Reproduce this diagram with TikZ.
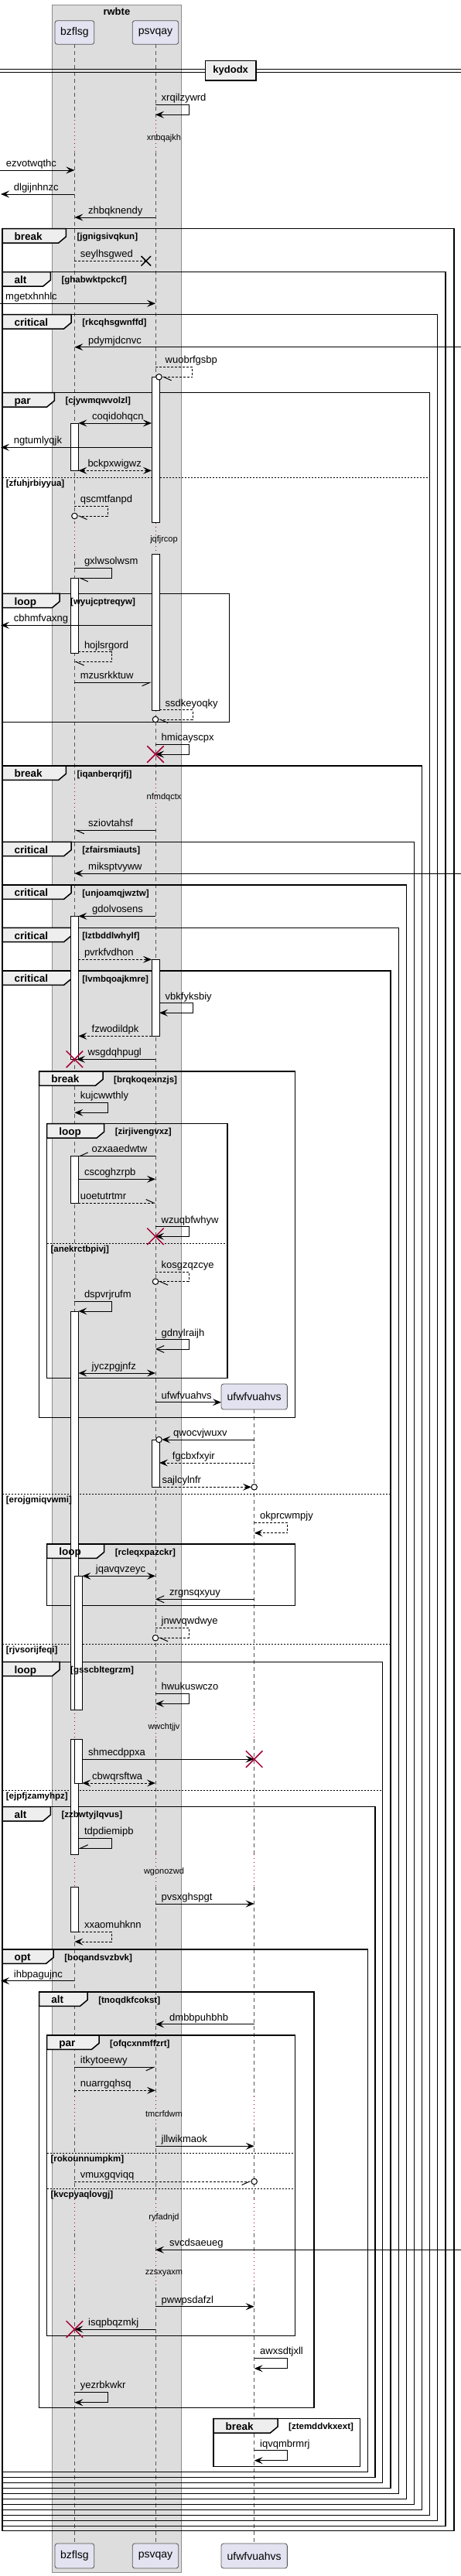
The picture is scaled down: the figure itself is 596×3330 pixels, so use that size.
\documentclass[tikz,border=0pt]{standalone}
\usepackage{fontspec}
\setmainfont{Liberation Sans}
\usetikzlibrary{arrows.meta, shapes.misc, positioning}
\pgfdeclarelayer{front}
\pgfsetlayers{main,front}
\definecolor{sqBox}{HTML}{DDDDDD}
\definecolor{sqTab}{HTML}{EEEEEE}
\definecolor{sqPart}{HTML}{E2E2F0}
\definecolor{sqRed}{HTML}{A80036}
\definecolor{sqGrey}{HTML}{555555}
\tikzset{
  lifeline/.style  = {sqGrey, line width=0.7pt, dash pattern=on 5pt off 4pt},
  delayline/.style = {sqRed, line width=0.8pt, dash pattern=on 1pt off 4pt},
  actbar/.style    = {fill=white, draw=black, line width=0.8pt},
  msgline/.style   = {black, line width=1pt},
  retline/.style   = {msgline, dash pattern=on 3pt off 2pt},
  fa/.style        = {-{Stealth[length=11pt, width=9pt, inset=4.5pt]}},
  fb/.style        = {{Stealth[length=11pt, width=9pt, inset=4.5pt]}-{Stealth[length=11pt, width=9pt, inset=4.5pt]}},
  oa/.style        = {-{Straight Barb[length=10pt, width=9pt]}},
  ha/.style        = {-{Straight Barb[harpoon, length=10pt, width=9pt]}},
  hs/.style        = {-{Straight Barb[harpoon, swap, length=10pt, width=9pt]}},
  lbl/.style       = {font=\fontsize{13}{15}\selectfont, inner sep=0pt, anchor=base west},
  dlbl/.style      = {font=\fontsize{11}{13}\selectfont, inner sep=0pt},
  kw/.style        = {font=\fontsize{13.5}{15}\selectfont\bfseries, inner sep=0pt, anchor=base west},
  glbl/.style      = {font=\fontsize{11.5}{13}\selectfont\bfseries, inner sep=0pt, anchor=base west},
  frameline/.style = {black, line width=1.5pt},
  elseline/.style  = {black, line width=0.8pt, dash pattern=on 2pt off 2pt},
  part/.style      = {draw=sqGrey, fill=sqPart, rounded corners=3pt, line width=0.8pt,
                      font=\fontsize{14}{16}\selectfont, inner sep=0pt},
  killx/.style     = {cross out, draw=sqRed, line width=1.5pt, minimum size=20pt, inner sep=0pt},
  lostx/.style     = {cross out, draw=black, line width=1.5pt, minimum size=11pt, inner sep=0pt},
  endo/.style      = {circle, draw=black, fill=white, line width=1pt, minimum size=7.5pt, inner sep=0pt},
}
% group frame: label, left, top, right, bottom, keyword, tab width
\newcommand\sqgroup[7]{%
  \draw[frameline] (#2,#3) rectangle (#4,#5);
  \draw[frameline, fill=sqTab] (#2,#3) -- ++(#7,0) -- ++(0,10.3) -- ++(-9.6,8) -- ++({-#7+9.6},0) -- cycle;
  \begin{pgfonlayer}{front}
    \node[kw] (#1-kw) at ({#2+15.4},{#3+14.8}) {#6};
    \node[glbl] (#1) at ({#2+#7+14},{#3+14}) {[#1]};
  \end{pgfonlayer}}
% else separator: label, left, right, y
\newcommand\sqelse[4]{%
  \draw[elseline] (#2,#4) -- (#3,#4);
  \begin{pgfonlayer}{front}
    \node[glbl] (#1) at ({#2+4.7},{#4+11}) {[#1]};
  \end{pgfonlayer}}
% message: x from, x to, y, label x, text
\newcommand\sqmsg[6][fa]{%
  \draw[msgline, #1] (#2,#4) -- (#3,#4);
  \node[lbl] (#6) at (#5,{#4-4.5}) {#6};}
% self message: x from, x right, y out, y back, x end, label x, text
\newcommand\sqself[8][fa]{%
  \draw[msgline, #1] (#2,#4) -- (#3,#4) -- (#3,#5) -- (#6,#5);
  \node[lbl] (#8) at (#7,{#4-4.5}) {#8};}

\begin{document}
\begin{tikzpicture}[x=1pt,y=-1pt]
  \useasboundingbox (0,0) rectangle (596,3330);
  % participant box
  \draw[fill=sqBox, draw=black!45, line width=0.7pt] (67.2,6) rectangle (234.6,3325);
  \node[font=\fontsize{13}{15}\selectfont\bfseries, inner sep=0pt, anchor=base] (rwbte) at (150.9,19) {rwbte};
  \foreach \n/\x/\w/\t in {bz/96.4/50.7/bzflsg, ps/201/59.5/psvqay}
    { \node[part, minimum width=\w pt, minimum height=30.6pt] (\n-top) at (\x,42) {\t};
      \node[part, minimum width=\w pt, minimum height=32pt] (\n-bot) at (\x,3304) {\t}; }
  \node[part, minimum width=85.3pt, minimum height=33pt] (uf-top) at (328.7,1805.5) {ufwfvuahvs};
  \node[part, minimum width=85.3pt, minimum height=32pt] (uf-bot) at (328.7,3304) {ufwfvuahvs};

  % lifelines and delays
  \foreach \a/\b in {57.3/155, 196.7/675.7, 716.7/1008.3, 1053.3/2210, 2248.3/2397.3,
                     2439.3/2710, 2750/2843.3, 2886.7/2913.3, 2956.7/3288}
    { \draw[lifeline] (96.4,\a) -- (96.4,\b); \draw[lifeline] (201,\a) -- (201,\b); }
  \foreach \a/\b in {1822/2210, 2248.3/2397.3, 2439.3/2710, 2750/2843.3, 2886.7/2913.3, 2956.7/3288}
    \draw[lifeline] (328.7,\a) -- (328.7,\b);
  \foreach \a/\b in {155/196.7, 675.7/716.7, 1008.3/1053.3, 2210/2248.3, 2397.3/2439.3,
                     2710/2750, 2843.3/2886.7, 2913.3/2956.7}
    { \draw[delayline] (96.4,\a) -- (96.4,\b); \draw[delayline] (201,\a) -- (201,\b); }
  \foreach \a/\b in {2210/2248.3, 2397.3/2439.3, 2710/2750, 2843.3/2886.7, 2913.3/2956.7}
    \draw[delayline] (328.7,\a) -- (328.7,\b);
  \foreach \t/\y in {xnbqajkh/178.3, jqfjrcop/697.3, nfmdqctx/1031, wwchtjjv/2232.7,
                     wgonozwd/2419.3, tmcrfdwm/2732.3, ryfadnjd/2866.7, zzsxyaxm/2938.3}
    \node[dlbl] (\t) at (212,\y) {\t};

  % divider
  \draw[line width=1pt] (0,89.8) -- (596,89.8);
  \draw[line width=1pt] (0,93) -- (596,93);
  \node[draw, fill=sqTab, line width=1.6pt, minimum width=65.6pt, minimum height=25.7pt,
        inner sep=0pt, font=\fontsize{13}{15}\selectfont\bfseries] (kydodx) at (298.2,91.2) {kydodx};

  % groups
  \sqgroup{jgnigsivqkun}{3}{295.7}{586.8}{3271.7}{break}{82.3}
  \sqgroup{ghabwktpckcf}{3}{351.7}{576}{3265.7}{alt}{62.4}
  \sqgroup{rkcqhsgwnffd}{3}{406.7}{565.7}{3258.7}{critical}{89.2}
  \sqgroup{cjywmqwvolzl}{3}{507.7}{555.7}{3251.7}{par}{67.3}
  \sqelse{zfuhjrbiyyua}{3}{555.7}{617.3}
  \sqgroup{wyujcptreqyw}{3}{767.3}{296.5}{933.3}{loop}{74}
  \sqgroup{iqanberqrjfj}{3}{990}{545.7}{3244.7}{break}{82.3}
  \sqgroup{zfairsmiauts}{3}{1088.3}{535.7}{3237.7}{critical}{89.2}
  \sqgroup{unjoamqjwztw}{3}{1144}{525.3}{3230.7}{critical}{89.2}
  \sqgroup{lztbddlwhylf}{3}{1199.3}{515.4}{3223.7}{critical}{89.2}
  \sqgroup{lvmbqoajkmre}{3}{1255}{505}{3216.7}{critical}{89.2}
  \sqgroup{brqkoqexnzjs}{50.7}{1385}{381.3}{1832.7}{break}{82.3}
  \sqgroup{zirjivengvxz}{60.7}{1452.7}{293.8}{1781.7}{loop}{74}
  \sqelse{anekrctbpivj}{60.7}{293.8}{1607.3}
  \sqelse{erojgmiqvwmi}{3}{505}{1931}
  \sqgroup{rcleqxpazckr}{60.7}{1996}{381.3}{2075.7}{loop}{74}
  \sqelse{rjvsorijfeqi}{3}{505}{2125.7}
  \sqgroup{gsscbltegrzm}{3}{2148.3}{494.6}{3209.7}{loop}{74}
  \sqelse{ejpfjzamyhpz}{3}{494.6}{2314}
  \sqgroup{zzbwtyjlqvus}{3}{2335.7}{485}{3202.7}{alt}{62.4}
  \sqgroup{boqandsvzbvk}{3}{2520}{475.4}{3195.7}{opt}{66.2}
  \sqgroup{tnoqdkfcokst}{50.7}{2575}{406}{3112.7}{alt}{62.4}
  \sqgroup{ofqcxnmffzrt}{60.7}{2631}{381.3}{3019.3}{par}{67.3}
  \sqelse{rokounnumpkm}{60.7}{381.3}{2783.3}
  \sqelse{kvcpyaqlovgj}{60.7}{381.3}{2829.3}
  \sqgroup{ztemddvkxext}{276}{3126.7}{465.4}{3188.3}{break}{83}

  % activations
  \foreach \x/\a/\b in {201/487.3/675.7, 201/716.7/918.3, 96.4/547/608.3, 96.4/747.3/844,
                        96.4/1184.3/1369.3, 201/1240.3/1339.3, 96.4/1494.3/1555,
                        96.4/1695/2210, 96.4/2248.3/2397.3, 101.4/2037.3/2210,
                        101.4/2248.3/2305, 201/1861/1922.3, 96.4/2439.3/2497.7}
    \draw[actbar] ({\x-5},\a) rectangle ({\x+5},\b);

  % messages
  \sqself{201}{244}{135}{148.3}{201}{208.5}{xrqilzywrd}
  \sqmsg{0}{96.4}{220}{7.7}{ezvotwqthc}
  \sqmsg{96.4}{1}{251}{17.7}{dlgijnhnzc}
  \sqmsg{201}{96.4}{281}{114}{zhbqknendy}
  \sqmsg[retline]{96.4}{188.8}{337.3}{103.7}{seylhsgwed}
  \node[lostx] (lost) at (188.8,337.3) {};
  \sqmsg{0}{201}{392.3}{7}{mgetxhnhlc}
  \sqmsg{596}{96.4}{448.7}{114}{pdymjdcnvc}
  \sqself[retline,ha,shorten >=3.75pt]{201}{248.8}{474.3}{487.3}{205.5}{213.5}{wuobrfgsbp}
  \node[endo] (end1) at (205.5,487.3) {};
  \sqmsg[fb]{101.4}{196}{547}{119}{coqidohqcn}
  \sqmsg{196}{1}{578.3}{17.7}{ngtumlyqjk}
  \sqmsg[retline,fb]{101.4}{196}{608.3}{113.3}{bckpxwigwz}
  \sqself[retline,ha,shorten >=3.75pt]{96.4}{139}{654.3}{667}{96.4}{103.7}{qscmtfanpd}
  \node[endo] (end2) at (96.4,667) {};
  \sqself[ha]{96.4}{144}{734.3}{747.3}{101.4}{108.8}{gxlwsolwsm}
  \sqmsg{196}{1}{808.3}{17.7}{cbhmfvaxng}
  \sqself[retline,ha]{101.4}{144}{842.5}{855.7}{96.4}{108.8}{hojlsrgord}
  \sqmsg[hs]{96.4}{196}{882.3}{103.7}{mzusrkktuw}
  \sqself[retline,ha,shorten >=3.75pt]{206}{249}{917.7}{930}{201}{213.5}{ssdkeyoqky}
  \node[endo] (end3) at (201,930) {};
  \sqself{201}{244}{962.3}{975}{201}{208.5}{hmicayscpx}
  \node[killx] (kill1) at (201,975) {};
  \sqmsg[ha]{201}{96.4}{1073.3}{114}{sziovtahsf}
  \sqmsg{596}{96.4}{1129}{114}{miksptvyww}
  \sqmsg{201}{101.4}{1184.3}{119}{gdolvosens}
  \sqmsg[retline,fa]{101.4}{196}{1240.3}{108.8}{pvrkfvdhon}
  \sqself{206}{249}{1296.7}{1309.3}{206}{213.5}{vbkfyksbiy}
  \sqmsg[retline,fa]{196}{101.4}{1339.3}{118.5}{fzwodildpk}
  \sqmsg{201}{99}{1369.3}{113.3}{wsgdqhpugl}
  \node[killx] (kill2) at (96.4,1369.3) {};
  \sqself{96.4}{139}{1425}{1438.3}{96.4}{103.7}{kujcwwthly}
  \sqmsg[hs]{201}{101.4}{1494.3}{118.5}{ozxaaedwtw}
  \sqmsg{101.4}{201}{1524.3}{108.8}{cscoghzrpb}
  \sqmsg[retline,ha]{101.4}{201}{1555}{103.7}{uoetutrtmr}
  \sqself{201}{244}{1585.7}{1598.3}{201}{208.5}{wzuqbfwhyw}
  \node[killx] (kill3) at (201,1598.3) {};
  \sqself[retline,ha,shorten >=3.75pt]{201}{244}{1644.3}{1656.7}{201}{208.5}{kosgzqzcye}
  \node[endo] (end4) at (201,1656.7) {};
  \sqself{96.4}{144}{1682}{1695}{101.4}{108.8}{dspvrjrufm}
  \sqself[oa]{201}{244}{1731.7}{1744}{201}{208.5}{gdnylraijh}
  \sqmsg[fb]{101.4}{201}{1775}{118.5}{jyczpgjnfz}
  \sqmsg{201}{286}{1812.7}{208.5}{ufwfvuahvs}
  \sqmsg[fa,shorten >=3.75pt]{328.7}{205.5}{1861}{224}{qwocvjwuxv}
  \node[endo] (end5) at (205.5,1861) {};
  \sqmsg[retline,fa]{328.7}{206}{1891}{222.7}{fgcbxfxyir}
  \sqmsg[retline,fa,shorten >=3.75pt]{206}{328.7}{1922.3}{209.3}{sajlcylnfr}
  \node[endo] (end6) at (328.7,1922.3) {};
  \sqself[retline,fa]{328.7}{371.4}{1968.3}{1981.7}{328.7}{336}{okprcwmpjy}
  \sqmsg[fb]{106.4}{201}{2037.3}{123.7}{jqavqvzeyc}
  \sqmsg[oa]{328.7}{201}{2067.3}{219}{zrgnsqxyuy}
  \sqself[retline,ha,shorten >=3.75pt]{201}{244}{2104.3}{2117.3}{201}{208.5}{jnwvqwdwye}
  \node[endo] (end7) at (201,2117.3) {};
  \sqself{201}{244}{2189.3}{2202.3}{201}{208.5}{hwukuswczo}
  \sqmsg{106.4}{328.7}{2274}{114}{shmecdppxa}
  \node[killx] (kill4) at (328.7,2274) {};
  \sqmsg[retline,fb]{106.4}{201}{2305}{119}{cbwqrsftwa}
  \sqself[hs]{101.4}{144}{2376.3}{2389.3}{101.4}{108.8}{tdpdiemipb}
  \sqmsg{201}{328.7}{2461}{208.5}{pvsxghspgt}
  \sqself[retline,fa]{101.4}{144}{2497.3}{2510}{96.4}{108.8}{xxaomuhknn}
  \sqmsg{96.4}{1}{2560.7}{17.7}{ihbpagujnc}
  \sqmsg{328.7}{201}{2616.7}{219}{dmbbpuhbhb}
  \sqmsg[hs]{96.4}{201}{2672.3}{103.7}{itkytoeewy}
  \sqmsg[retline,fa]{96.4}{201}{2702.3}{103.7}{nuarrgqhsq}
  \sqmsg{201}{328.7}{2774.3}{208.5}{jllwikmaok}
  \sqmsg[retline,hs,shorten >=3.75pt]{96.4}{328.7}{2820}{103.7}{vmuxgqviqq}
  \node[endo] (end8) at (328.7,2820) {};
  \sqmsg{596}{201}{2908.3}{219}{svcdsaeueg}
  \sqmsg{201}{328.7}{2981.7}{208.5}{pwwpsdafzl}
  \sqmsg{201}{96.4}{3011}{114}{isqpbqzmkj}
  \node[killx] (kill5) at (96.4,3011) {};
  \sqself{328.7}{371.4}{3048.3}{3061.7}{328.7}{336}{awxsdtjxll}
  \sqself{96.4}{139}{3092.3}{3105.7}{96.4}{103.7}{yezrbkwkr}
  \sqself{328.7}{371.4}{3167.7}{3180.7}{328.7}{336}{iqvqmbrmrj}
\end{tikzpicture}
\end{document}
